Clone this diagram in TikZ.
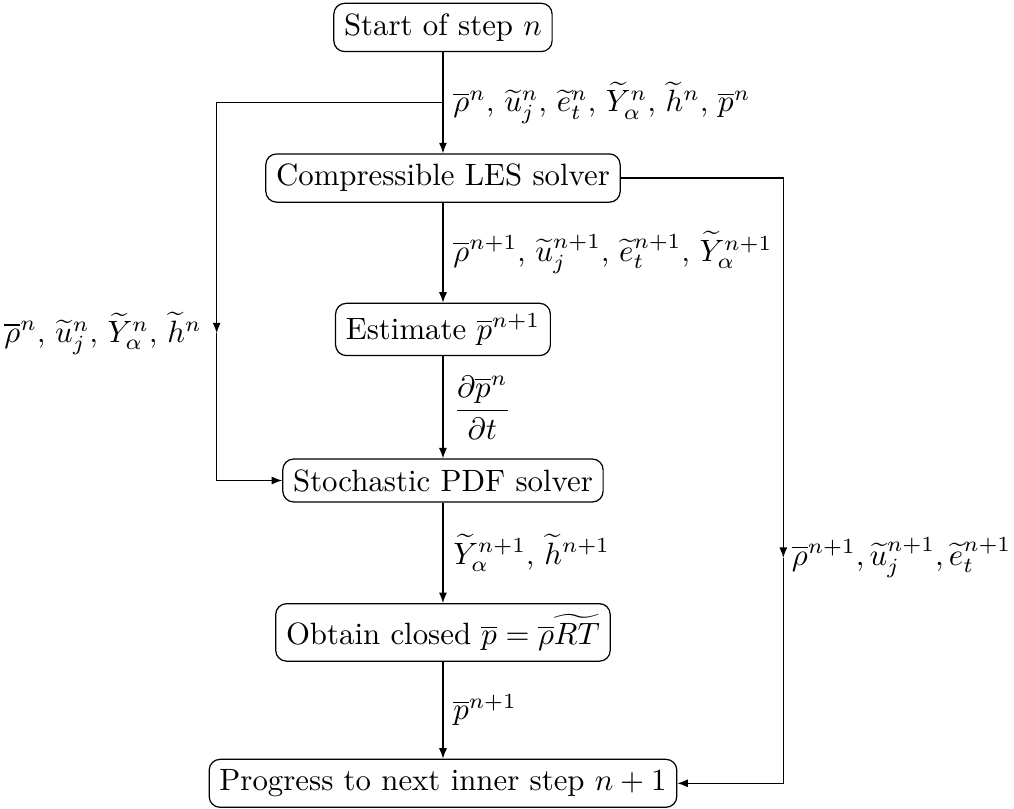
\documentclass[tikz,border=0pt]{standalone}
\usepackage{amsmath, amssymb}
\usepackage{tikz}
\usetikzlibrary{arrows.meta, positioning}

\begin{document}
\begin{tikzpicture}[>={Latex[length=3.4pt,width=2.6pt]},
          box/.style={draw,rounded corners=3.5pt,fill=white},
          lbl/.style={inner sep=3.2pt,font=\fontsize{9.6}{11.5}\selectfont}]
        \useasboundingbox (0,0) rectangle (11.56,-9.22);
        \node[box](start) at (5.05,-0.313){Start of step $n$};
        \node[box](les) at (5.05,-2.03){Compressible LES solver};
        \node[box](est) at (5.05,-3.756){Estimate $\overline{p}^{n+1}$};
        \node[box](sto) at (5.05,-5.478){Stochastic PDF solver};
        \node[box](obt) at (5.05,-7.21){Obtain closed $\overline{p}=\overline{\rho}\widetilde{RT}$};
        \node[box](prog) at (5.05,-8.93){Progress to next inner step $n+1$};
        % branch points
        \coordinate (br) at (5.05,-1.171);
        \coordinate (lft) at (2.47,-3.80);
        \coordinate (rgt) at (8.93,-6.36);
        % main column
        \draw[->](start)--(les);
        \node[lbl,anchor=west] at (br){$\overline{\rho}^n$, $\widetilde{u}_j^n$, $\widetilde{e}_t^n$, $\widetilde{Y}_\alpha^n$, $\widetilde{h}^n$, $\overline{p}^n$};
        \draw[->](les)--node[lbl,right]{$\overline{\rho}^{n+1}$, $\widetilde{u}_j^{n+1}$, $\widetilde{e}_t^{n+1}$, $\widetilde{Y}_\alpha^{n+1}$}(est);
        \draw[->](est)--node[lbl,right]{$\dfrac{\partial\overline{p}^n}{\partial t}$}(sto);
        \draw[->](sto)--node[lbl,right]{$\widetilde{Y}_\alpha^{n+1}$, $\widetilde{h}^{n+1}$}(obt);
        \draw[->](obt)--node[lbl,right]{$\overline{p}^{n+1}$}(prog);
        % left loop
        \draw[->](br)-|(lft);
        \draw[->](lft)|-(sto.west);
        \node[lbl,anchor=east,inner sep=4.6pt] at (lft){$\overline{\rho}^n$, $\widetilde{u}_j^n$, $\widetilde{Y}_\alpha^n$, $\widetilde{h}^n$};
        % right loop
        \draw[->](les.east)-|(rgt);
        \draw[->](rgt)|-(prog.east);
        \node[lbl,anchor=west,inner sep=2.6pt] at (rgt){$\overline{\rho}^{n+1}, \widetilde{u}_j^{n+1}, \widetilde{e}_t^{n+1}$};
      \end{tikzpicture}
\end{document}
